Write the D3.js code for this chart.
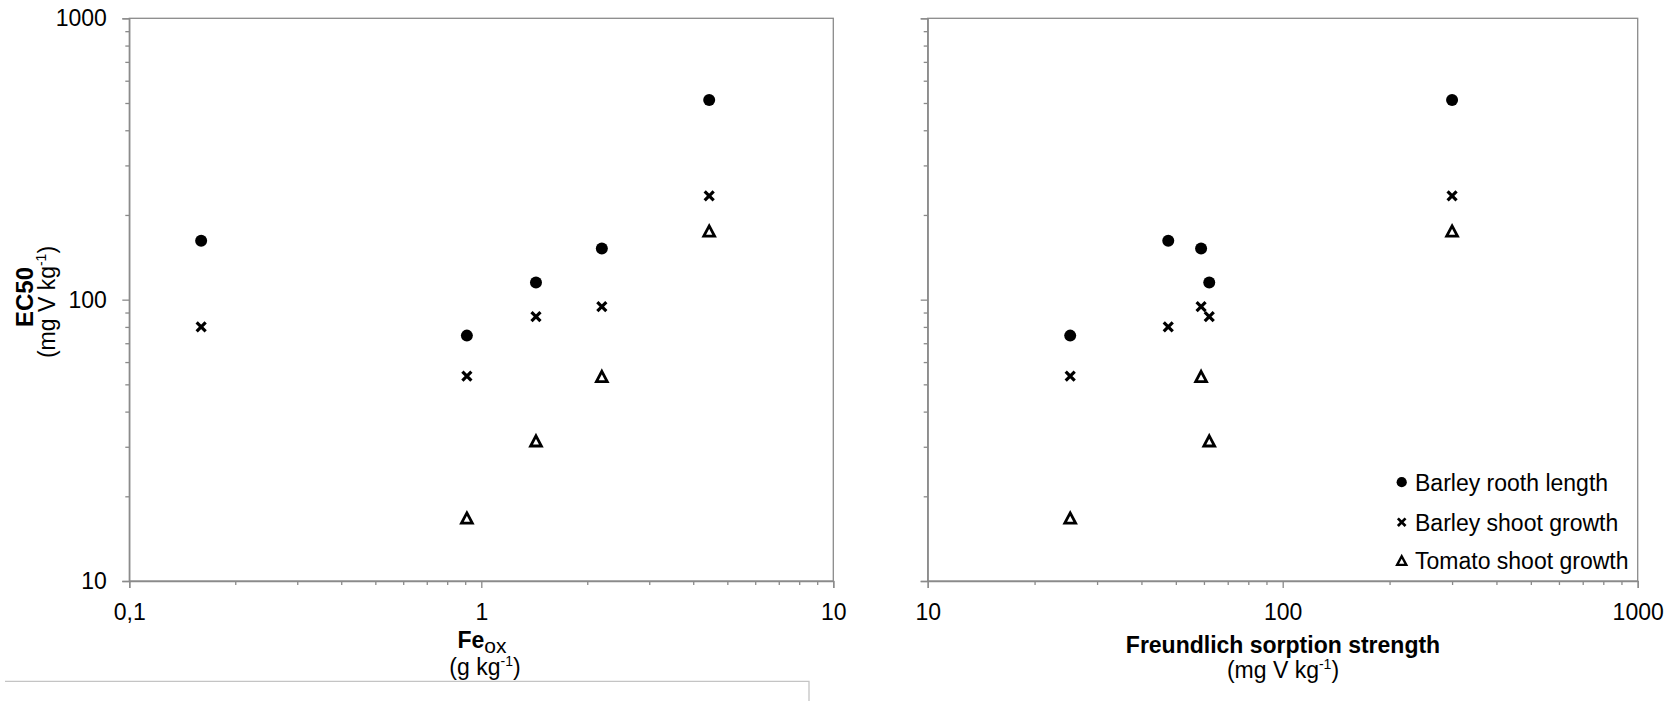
<!DOCTYPE html>
<html>
<head>
<meta charset="utf-8">
<script src="https://cdn.jsdelivr.net/npm/d3@7"></script>
<style>
  body { margin: 0; background: #fff; }
  svg { display: block; font-family: "Liberation Sans", Arial, sans-serif; }
</style>
</head>
<body>
<div id="chart"></div>
<script>
// one entry per soil, same order in every array
var feOx = [0.16, 0.91, 1.43, 2.2, 4.44];          // g kg-1
var freundlich = [47.6, 25.2, 62.1, 58.9, 300];    // mg V kg-1
var barleyRoot = [162, 74.5, 115, 152, 512];
var barleyShoot = [80, 53.5, 87, 94.5, 234];
var tomatoShoot = [null, 16.7, 31.4, 53.2, 175];

var seriesNames = ["Barley rooth length", "Barley shoot growth", "Tomato shoot growth"];
var yTicks = [10, 100, 1000];
var yTickLabels = ["10", "100", "1000"];
var feTicks = [0.1, 1, 10];
var feTickLabels = ["0,1", "1", "10"];
var frTicks = [10, 100, 1000];
var frTickLabels = ["10", "100", "1000"];

var axisColor = "#8a8a8a";
var fontSize = 23;

var svg = d3.select("#chart")
    .append("svg")
    .attr("width", 1680)
    .attr("height", 701);

var plotTop = 18.3, plotBottom = 581;
var y = d3.scaleLog().domain([10, 1000]).range([plotBottom, plotTop]);

// 2..9 between each pair of decades
function minors(majors) {
    var out = [];
    for (var i = 0; i < majors.length - 1; i++) {
        for (var k = 2; k <= 9; k++) out.push(majors[i] * k);
    }
    return out;
}

function styleAxis(g, keepDomain) {
    g.attr("font-size", null).attr("font-family", null);
    if (!keepDomain) g.select(".domain").remove();
    g.select(".domain").attr("stroke", axisColor).attr("stroke-width", 1.3);
    g.selectAll(".tick line").attr("stroke", axisColor).attr("stroke-width", 1.3);
    g.selectAll(".tick text").attr("fill", "#000").style("font-size", fontSize + "px");
}

function marker(sel, type, s) {
    if (type === 0) {
        sel.append("circle").attr("r", 6 * s).attr("fill", "#000");
    } else if (type === 1) {
        var a = 4.5 * s;
        sel.append("path")
            .attr("d", "M" + -a + "," + -a + "L" + a + "," + a + "M" + -a + "," + a + "L" + a + "," + -a)
            .attr("stroke", "#000").attr("stroke-width", 3.2 * s).attr("fill", "none");
    } else {
        var w = 5.4 * s, t = 5.4 * s, b = 4.8 * s;
        sel.append("path")
            .attr("d", "M0," + -t + "L" + w + "," + b + "L" + -w + "," + b + "Z")
            .attr("stroke", "#000").attr("stroke-width", 2.8 * s).attr("fill", "#fff");
    }
}

function panel(x0, x1, xValues, xTicks, xLabels, showYLabels) {
    var x = d3.scaleLog().domain([xTicks[0], xTicks[xTicks.length - 1]]).range([x0, x1]);
    var g = svg.append("g");

    // frame (top and right edges)
    g.append("rect")
        .attr("x", x0).attr("y", plotTop)
        .attr("width", x1 - x0).attr("height", plotBottom - plotTop)
        .attr("fill", "none").attr("stroke", axisColor).attr("stroke-width", 1.3);

    //y axis: minor then major ticks
    g.append("g").attr("transform", "translate(" + x0 + ",0)")
        .call(d3.axisLeft(y).tickValues(minors(yTicks)).tickSize(4).tickFormat(""))
        .call(styleAxis, false);
    g.append("g").attr("transform", "translate(" + x0 + ",0)")
        .call(d3.axisLeft(y).tickValues(yTicks).tickSize(7).tickPadding(15.5)
            .tickFormat(function(d, i) { return showYLabels ? yTickLabels[i] : ""; }))
        .call(styleAxis, true);

    //x axis
    g.append("g").attr("transform", "translate(0," + plotBottom + ")")
        .call(d3.axisBottom(x).tickValues(minors(xTicks)).tickSize(4).tickFormat(""))
        .call(styleAxis, false);
    g.append("g").attr("transform", "translate(0," + plotBottom + ")")
        .call(d3.axisBottom(x).tickValues(xTicks).tickSize(7).tickPadding(16)
            .tickFormat(function(d, i) { return xLabels[i]; }))
        .call(styleAxis, true);

    //points
    [barleyRoot, barleyShoot, tomatoShoot].forEach(function(series, si) {
        series.forEach(function(v, i) {
            if (v == null) return;
            var m = g.append("g")
                .attr("transform", "translate(" + x(xValues[i]) + "," + y(v) + ")");
            marker(m, si, 1);
        });
    });
    return x;
}

panel(129.3, 833.3, feOx, feTicks, feTickLabels, true);
panel(927.7, 1637.7, freundlich, frTicks, frTickLabels, false);

// y title
svg.append("text")
    .attr("transform", "translate(33,297) rotate(-90)")
    .attr("text-anchor", "middle")
    .attr("font-weight", "bold")
    .style("font-size", "24px")
    .text("EC50");
var yUnit = svg.append("text")
    .attr("transform", "translate(55,302) rotate(-90)")
    .attr("text-anchor", "middle")
    .style("font-size", fontSize + "px");
yUnit.append("tspan").text("(mg V kg");
yUnit.append("tspan").attr("dy", -9).style("font-size", "14px").text("-1");
yUnit.append("tspan").attr("dy", 9).text(")");

// left x title
var feTitle = svg.append("text")
    .attr("x", 482).attr("y", 648)
    .attr("text-anchor", "middle")
    .style("font-size", fontSize + "px");
feTitle.append("tspan").attr("font-weight", "bold").text("Fe");
feTitle.append("tspan").attr("dy", 5).style("font-size", "21px").text("ox");
var feUnit = svg.append("text")
    .attr("x", 485).attr("y", 675)
    .attr("text-anchor", "middle")
    .style("font-size", fontSize + "px");
feUnit.append("tspan").text("(g kg");
feUnit.append("tspan").attr("dy", -9).style("font-size", "14px").text("-1");
feUnit.append("tspan").attr("dy", 9).text(")");

// right x title
svg.append("text")
    .attr("x", 1283).attr("y", 653)
    .attr("text-anchor", "middle")
    .attr("font-weight", "bold")
    .style("font-size", fontSize + "px")
    .text("Freundlich sorption strength");
var frUnit = svg.append("text")
    .attr("x", 1283).attr("y", 678)
    .attr("text-anchor", "middle")
    .style("font-size", fontSize + "px");
frUnit.append("tspan").text("(mg V kg");
frUnit.append("tspan").attr("dy", -9).style("font-size", "14px").text("-1");
frUnit.append("tspan").attr("dy", 9).text(")");

// legend
var legendBase = [490.7, 530.7, 569.3];
seriesNames.forEach(function(name, i) {
    var m = svg.append("g").attr("transform", "translate(1401.7," + (legendBase[i] - 8.5) + ")");
    marker(m, i, 0.85);
    svg.append("text")
        .attr("x", 1415).attr("y", legendBase[i])
        .style("font-size", fontSize + "px")
        .text(name);
});

// leftover box edge at the bottom
svg.append("path")
    .attr("d", "M5,681.3H809V701")
    .attr("fill", "none")
    .attr("stroke", "#c4c4c4")
    .attr("stroke-width", 1.3);
</script>
</body>
</html>
